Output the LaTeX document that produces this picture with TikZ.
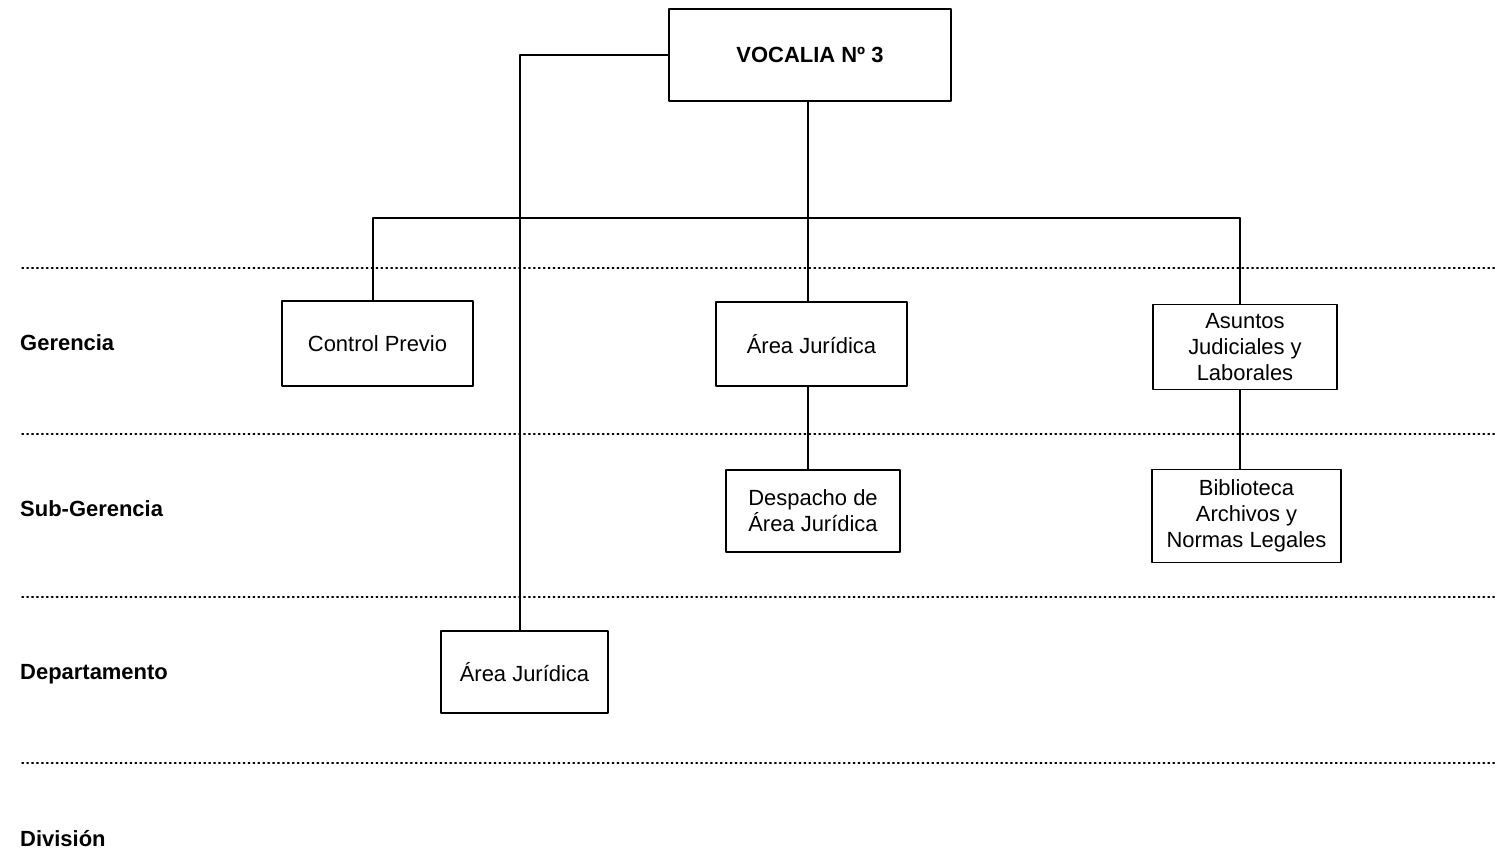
\documentclass[tikz,border=0pt]{standalone}
\usepackage{fontspec}
\setmainfont{Liberation Sans}
\usepackage{tikz}
\usetikzlibrary{positioning}

\tikzset{
	unidad/.style={draw=black,line width=0.9pt,align=center,inner sep=2pt,font=\fontsize{12.5}{14.8}\selectfont},
	nivel/.style={anchor=west,font=\fontsize{12.5}{14.5}\selectfont\bfseries},
	conector/.style={line width=0.8pt}
}

\begin{document}
\begin{tikzpicture}[line cap=round,line join=round,x=0.02cm,y=-0.02cm]
					\useasboundingbox (0,0) rectangle (1495,853);
					
					\foreach \y in {268,434,597,763}
					\draw[dotted,line width=0.8pt,color=black] (22,\y) -- (1495,\y);
					
					\node[nivel] (gerencia) at (14,343) {Gerencia};
					\node[nivel] (subgerencia) at (14,509) {Sub-Gerencia};
					\node[nivel] (departamento) at (14,674) {Departamento};
					\node[nivel] (division) at (14,839) {División};
					
					\node[unidad,minimum width=5.64cm,minimum height=1.84cm,font=\fontsize{12.5}{14.5}\selectfont\bfseries] (voc) at (810,55) {VOCALIA Nº 3};
					
					\node[unidad,minimum width=3.82cm,minimum height=1.7cm] (ctrl) at (377.5,343.5) {Control Previo};
					\node[unidad,minimum width=3.82cm,minimum height=1.68cm] (jur) at (811.5,344) {Área Jurídica};
					\node[unidad,minimum width=3.68cm,minimum height=1.7cm] (asun) at (1245,347) {Asuntos\\Judiciales y\\Laborales};
					
					\node[unidad,minimum width=3.48cm,minimum height=1.64cm] (desp) at (813,511) {Despacho de\\Área Jurídica};
					\node[unidad,minimum width=3.78cm,minimum height=1.86cm] (bib) at (1246.5,516) {Biblioteca\\Archivos y\\Normas Legales};
					
					\node[unidad,minimum width=3.34cm,minimum height=1.64cm] (dep) at (524.5,672) {Área Jurídica};
					
					\coordinate (busL) at (373,218);
					\coordinate (busR) at (1240,218);
					\coordinate (busM) at (808,218);
					\coordinate (codo) at (520,56);
					
					\draw[conector] (busL) -- (busR);
					\draw[conector] (busM |- voc.south) -- (busM |- jur.north);
					\draw[conector] (busL) -- (busL |- ctrl.north);
					\draw[conector] (busR) -- (busR |- asun.north);
					\draw[conector] (busM |- jur.south) -- (busM |- desp.north);
					\draw[conector] (busR |- asun.south) -- (busR |- bib.north);
					\draw[conector] (voc.west) -- (voc.west -| codo) -- (codo |- dep.north);
				\end{tikzpicture}
\end{document}
